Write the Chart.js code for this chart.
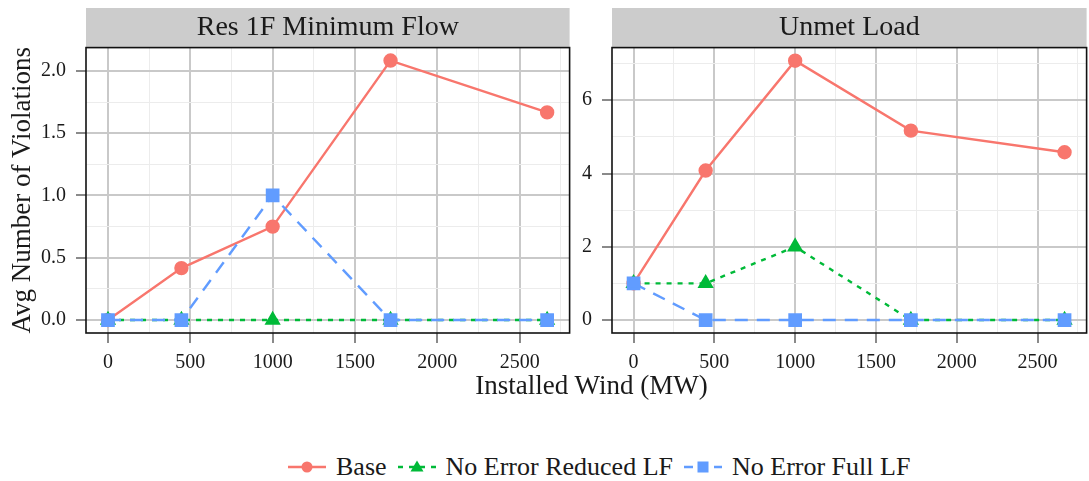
<!DOCTYPE html>
<html>
<head>
<meta charset="utf-8">
<script src="https://cdn.jsdelivr.net/npm/chart.js@4.4.1/dist/chart.umd.min.js"></script>
<style>
  html, body { margin: 0; padding: 0; background: #fff; overflow: hidden; }
  body { width: 1089px; height: 481px; position: relative; font-family: 'Liberation Serif', 'Times New Roman', serif; color: #1a1a1a; }
  #leftBox { position: absolute; left: 0; top: 0; width: 580px; height: 400px; }
  #rightBox { position: absolute; left: 570px; top: 0; width: 527px; height: 400px; }
  #xTitle { position: absolute; left: 86px; width: 1011px; top: 372px; text-align: center; font-size: 27px; line-height: 27px; }
  #legend { position: absolute; left: 288px; top: 454px; font-size: 26px; line-height: 26px; white-space: nowrap; display: flex; align-items: center; }
  #legend .item { display: flex; align-items: center; margin-right: 11px; }
  #legend svg { margin-right: 10px; }
</style>
</head>
<body>
<div id="leftBox"><canvas id="resChart" width="580" height="400"></canvas></div>
<div id="rightBox"><canvas id="unmetChart" width="527" height="400"></canvas></div>
<div id="xTitle">Installed Wind (MW)</div>
<div id="legend"></div>
<script>
// installed wind levels (x) shared by both panels
const windMW = [0, 446, 1000, 1716, 2667];

// Res 1F Minimum Flow panel
const resBase    = [0, 0.417, 0.75, 2.083, 1.667];
const resReduced = [0, 0, 0, 0, 0];
const resFull    = [0, 0, 1, 0, 0];

// Unmet Load panel
const unmetBase    = [1, 4.08, 7.08, 5.17, 4.58];
const unmetReduced = [1, 1, 2, 0, 0];
const unmetFull    = [1, 0, 0, 0, 0];

const seriesNames = ["Base", "No Error Reduced LF", "No Error Full LF"];
const panelTitles = ["Res 1F Minimum Flow", "Unmet Load"];
const xTitle = "Installed Wind (MW)";
const yTitle = "Avg Number of Violations";

const xMajorTicks = [0, 500, 1000, 1500, 2000, 2500];
const xMinorTicks = [250, 750, 1250, 1750, 2250, 2750];
const resMajorTicks = [0, 0.5, 1, 1.5, 2];
const resMinorTicks = [0.25, 0.75, 1.25, 1.75];
const unmetMajorTicks = [0, 2, 4, 6];
const unmetMinorTicks = [1, 3, 5, 7];

const colors = ["#F8766D", "#00BA38", "#619CFF"];
const FONT = "'Liberation Serif', 'Times New Roman', serif";

Chart.defaults.font.family = FONT;
Chart.defaults.color = "#1a1a1a";

function points(ys) {
    return windMW.map((x, i) => ({ x: x, y: ys[i] }));
}

function datasets(base, reduced, full) {
    return [
        { label: seriesNames[0], data: points(base), borderColor: colors[0], backgroundColor: colors[0],
          borderWidth: 2.4, pointStyle: 'circle', pointRadius: 6, order: 3 },
        { label: seriesNames[1], data: points(reduced), borderColor: colors[1], backgroundColor: colors[1],
          borderWidth: 2.4, borderDash: [5, 6], pointStyle: 'triangle', pointRadius: 7, order: 2 },
        { label: seriesNames[2], data: points(full), borderColor: colors[2], backgroundColor: colors[2],
          borderWidth: 2.4, borderDash: [13, 9], pointStyle: 'rect', pointRadius: 8, order: 1 },
    ];
}

// gray strip behind the facet title, black border round the panel
const facetPlugin = {
    id: 'facet',
    beforeDraw(chart) {
        const a = chart.chartArea;
        const t = chart.titleBlock;
        const ctx = chart.ctx;
        ctx.save();
        ctx.fillStyle = '#cccccc';
        ctx.fillRect(a.left, t.top, a.right - a.left, t.bottom - t.top);
        ctx.restore();
    },
    afterDraw(chart) {
        const a = chart.chartArea;
        const ctx = chart.ctx;
        ctx.save();
        ctx.strokeStyle = '#111';
        ctx.lineWidth = 1.6;
        ctx.strokeRect(a.left, a.top, a.right - a.left, a.bottom - a.top);
        ctx.restore();
    }
};

function gridOpts(major) {
    const isMajor = v => major.some(m => Math.abs(m - v) < 1e-9);
    return {
        color: c => isMajor(c.tick.value) ? '#c9c9c9' : '#ececec',
        lineWidth: c => isMajor(c.tick.value) ? 2 : 1,
        tickColor: c => isMajor(c.tick.value) ? '#8a8a8a' : 'rgba(0,0,0,0)',
        tickLength: 10,
        drawTicks: true,
    };
}

function makeChart(canvasId, title, data, yMin, yMax, yMajor, yMinor, yFmt, yWidth, showYTitle, padRight) {
    const isYMajor = v => yMajor.some(m => Math.abs(m - v) < 1e-9);
    return new Chart(document.getElementById(canvasId), {
        type: 'line',
        data: { datasets: data },
        options: {
            responsive: false,
            animation: false,
            events: [],
            devicePixelRatio: 1,
            layout: { padding: { top: 8, left: 0, right: padRight, bottom: 0 } },
            plugins: {
                legend: { display: false },
                tooltip: { enabled: false },
                title: {
                    display: true, text: title, fullSize: false,
                    font: { size: 28, weight: 'normal', lineHeight: 1.2 },
                    color: '#1a1a1a',
                    padding: { top: 3, bottom: 3 },
                },
            },
            scales: {
                x: {
                    type: 'linear',
                    min: -133.5, max: 2803.5,
                    afterBuildTicks: s => { s.ticks = xMajorTicks.concat(xMinorTicks).map(v => ({ value: v })); },
                    afterFit: s => { s.height = 67; },
                    grid: gridOpts(xMajorTicks),
                    border: { display: false },
                    ticks: {
                        autoSkip: false, maxRotation: 0, padding: 8,
                        font: { size: 20 }, color: '#1a1a1a',
                        callback: v => xMajorTicks.includes(v) ? String(v) : '',
                    },
                },
                y: {
                    type: 'linear',
                    min: yMin, max: yMax,
                    afterBuildTicks: s => { s.ticks = yMajor.concat(yMinor).map(v => ({ value: v })); },
                    afterFit: s => { s.width = yWidth; },
                    grid: gridOpts(yMajor),
                    border: { display: false },
                    title: {
                        display: showYTitle, text: yTitle,
                        font: { size: 27 }, color: '#1a1a1a',
                        padding: { top: 7, bottom: 0 },
                    },
                    ticks: {
                        autoSkip: false, padding: 10,
                        font: { size: 20 }, color: '#1a1a1a',
                        callback: v => isYMajor(v) ? yFmt(v) : '',
                    },
                },
            },
        },
        plugins: [facetPlugin],
    });
}

makeChart('resChart', panelTitles[0], datasets(resBase, resReduced, resFull),
    -0.104, 2.187, resMajorTicks, resMinorTicks, v => v.toFixed(1), 86, true, 9);
makeChart('unmetChart', panelTitles[1], datasets(unmetBase, unmetReduced, unmetFull),
    -0.354, 7.437, unmetMajorTicks, unmetMinorTicks, v => String(v), 42, false, 0);

// legend keys
const keyShapes = [
    c => `<circle cx="19" cy="10" r="5.5" fill="${c}"/>`,
    c => `<polygon points="19,3.5 25.5,14.5 12.5,14.5" fill="${c}"/>`,
    c => `<rect x="13.5" y="4.5" width="11" height="11" fill="${c}"/>`,
];
const keyDash = ["", "5,6", "9,6"];
const legend = document.getElementById('legend');
seriesNames.forEach((name, i) => {
    const item = document.createElement('div');
    item.className = 'item';
    item.innerHTML =
        `<svg width="38" height="20" viewBox="0 0 38 20">` +
        `<line x1="0" y1="10" x2="38" y2="10" stroke="${colors[i]}" stroke-width="2.4"` +
        (keyDash[i] ? ` stroke-dasharray="${keyDash[i]}"` : '') + `/>` +
        keyShapes[i](colors[i]) + `</svg><span>${name}</span>`;
    legend.appendChild(item);
});
</script>
</body>
</html>
